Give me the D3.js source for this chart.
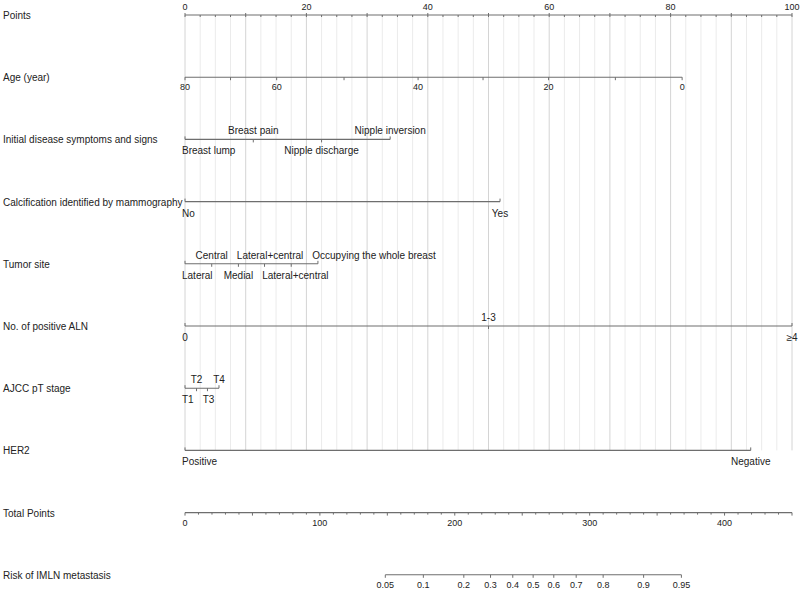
<!DOCTYPE html>
<html>
<head>
<meta charset="utf-8">
<script src="https://cdn.jsdelivr.net/npm/d3@7"></script>
<style>
  body { margin: 0; background: #fff; }
  text { font-family: "Liberation Sans", Arial, sans-serif; fill: #222; }
</style>
</head>
<body>
<div id="chart-container"></div>
<script>
// values
const rowNames = ["Points", "Age (year)", "Initial disease symptoms and signs",
  "Calcification identified by mammography", "Tumor site", "No. of positive ALN",
  "AJCC pT stage", "HER2", "Total Points", "Risk of IMLN metastasis"];

const ageTicks = [80, 70, 60, 50, 40, 30, 20, 10, 0];
const agePoints = [0, 7.5, 15.1, 26.2, 38.4, 49.1, 59.9, 70.9, 81.9];
const ageLabelled = [80, 60, 40, 20, 0];

const symptomLevels = ["Breast lump", "Breast pain", "Nipple discharge", "Nipple inversion"];
const symptomPoints = [0, 11.25, 22.5, 33.8];

const calcLevels = ["No", "Yes"];
const calcPoints = [0, 51.9];

const tumorLevels = ["Lateral", "Central", "Medial", "Lateral+central", "Lateral+central", "Occupying the whole breast"];
const tumorPoints = [0, 4.4, 8.8, 13.1, 17.5, 21.9];

const alnLevels = ["0", "1-3", "\u22654"];
const alnPoints = [0, 50, 100];

const stageLevels = ["T1", "T2", "T3", "T4"];
const stagePoints = [0, 1.9, 3.7, 5.6];

const her2Levels = ["Positive", "Negative"];
const her2Points = [0, 93.2];

const riskTicks = ["0.05", "0.1", "0.2", "0.3", "0.4", "0.5", "0.6", "0.7", "0.8", "0.9", "0.95"];
const riskTotalPoints = [148.5, 176.7, 206.7, 226.5, 243, 258.1, 273.4, 290, 310, 340, 368];

var width = 800, height = 589;
var x0 = 185, x1 = 792;
var rowTop = 15, rowStep = 62.2;
var axisColor = "#6e6e6e";

var svg = d3.select("#chart-container").append("svg")
    .attr("width", width)
    .attr("height", height);

var pts = d3.scaleLinear().domain([0, 100]).range([x0, x1]);
var total = d3.scaleLinear().domain([0, 450]).range([x0, x1]);
var rowY = function(i) { return rowTop + i * rowStep; };

// vertical grid lines
var gridVals = d3.range(0, 100.01, 2.5);
svg.append("g").selectAll("line")
    .data(gridVals)
  .enter().append("line")
    .attr("x1", d => pts(d)).attr("x2", d => pts(d))
    .attr("y1", rowY(0)).attr("y2", rowY(7))
    .attr("stroke", d => d % 10 === 0 ? "#d4d4d4" : "#ebebeb")
    .attr("stroke-width", 1);

// row names on the left
svg.append("g").selectAll("text")
    .data(rowNames)
  .enter().append("text")
    .attr("x", 3)
    .attr("y", (d, i) => rowY(i) + 4)
    .style("font-size", "10px")
    .text(d => d);

function hline(g, a, b, y) {
  g.append("line")
    .attr("x1", a).attr("x2", b).attr("y1", y).attr("y2", y)
    .attr("stroke", axisColor).attr("stroke-width", 1.1);
}
function tick(g, x, y, len) {
  g.append("line")
    .attr("x1", x).attr("x2", x).attr("y1", y).attr("y2", y + len)
    .attr("stroke", axisColor).attr("stroke-width", 1);
}

// Points axis
var gp = svg.append("g");
hline(gp, pts(0), pts(100), rowY(0));
gridVals.forEach(function(v) {
  if (v % 10 === 0) {
    gp.append("line").attr("x1", pts(v)).attr("x2", pts(v))
      .attr("y1", rowY(0) - 2).attr("y2", rowY(0) + 2)
      .attr("stroke", axisColor);
  } else {
    tick(gp, pts(v), rowY(0), 2);
  }
});
gp.selectAll("text").data(d3.range(0, 101, 20)).enter().append("text")
    .attr("x", d => pts(d)).attr("y", rowY(0) - 5)
    .attr("text-anchor", "middle").style("font-size", "9px")
    .text(d => d);

// Age axis
var ga = svg.append("g");
var ay = rowY(1);
hline(ga, pts(d3.min(agePoints)), pts(d3.max(agePoints)), ay);
ageTicks.forEach(function(a, i) {
  tick(ga, pts(agePoints[i]), ay, 3);
  if (ageLabelled.indexOf(a) >= 0) {
    ga.append("text").attr("x", pts(agePoints[i])).attr("y", ay + 13)
      .attr("text-anchor", "middle").style("font-size", "9px").text(a);
  }
});

// categorical axes
function catAxis(levels, points, row) {
  var g = svg.append("g");
  var y = rowY(row);
  hline(g, pts(d3.min(points)), pts(d3.max(points)), y);
  var last = { top: -1e9, bottom: -1e9 };
  levels.forEach(function(lab, i) {
    var x = pts(points[i]);
    tick(g, x, y, i === 0 || i === levels.length - 1 ? -3 : 3);
    var side = (levels.length > 2 && i % 2 === 1) ? "top" : "bottom";
    var t = g.append("text")
      .attr("y", side === "top" ? y - 5 : y + 15)
      .style("font-size", "10px")
      .text(lab);
    var w = t.node().getComputedTextLength();
    var left = Math.max(x - w / 2, 182, last[side] + 9);
    t.attr("x", left);
    last[side] = left + w;
  });
}
catAxis(symptomLevels, symptomPoints, 2);
catAxis(calcLevels, calcPoints, 3);
catAxis(tumorLevels, tumorPoints, 4);
catAxis(alnLevels, alnPoints, 5);
catAxis(stageLevels, stagePoints, 6);
catAxis(her2Levels, her2Points, 7);

// Total points axis
var gt = svg.append("g");
var ty = rowY(8);
hline(gt, total(0), total(450), ty);
d3.range(0, 451, 10).forEach(function(v) {
  tick(gt, total(v), ty, v % 50 === 0 ? 3 : 2);
});
gt.selectAll("text").data(d3.range(0, 401, 100)).enter().append("text")
    .attr("x", d => total(d)).attr("y", ty + 13)
    .attr("text-anchor", "middle").style("font-size", "9px")
    .text(d => d);

// Risk axis
var gr = svg.append("g");
var ry = rowY(9);
hline(gr, total(d3.min(riskTotalPoints)), total(d3.max(riskTotalPoints)), ry);
riskTicks.forEach(function(r, i) {
  var x = total(riskTotalPoints[i]);
  tick(gr, x, ry, 3);
  gr.append("text").attr("x", x).attr("y", ry + 13)
    .attr("text-anchor", "middle").style("font-size", "9px").text(r);
});
</script>
</body>
</html>
